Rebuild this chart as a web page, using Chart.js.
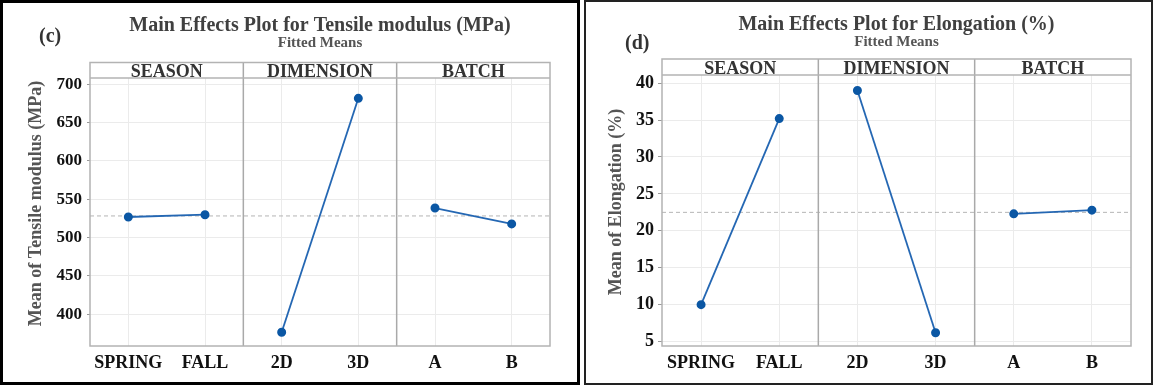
<!DOCTYPE html>
<html>
<head>
<meta charset="utf-8">
<script src="https://cdn.jsdelivr.net/npm/chart.js@4.4.1/dist/chart.umd.min.js"></script>
<style>
  html, body { margin: 0; padding: 0; background: #fff; }
  body { width: 1154px; height: 385px; position: relative; overflow: hidden; }
  .panel { position: absolute; top: 0; height: 385px; box-sizing: border-box; background: #fff; }
  #panel-c { left: 0; width: 580px; border: 3px solid #000; }
  #panel-d { left: 584px; width: 569px; border: 2px solid #222; }
  canvas { display: block; }
</style>
</head>
<body>
<div class="panel" id="panel-c"><canvas id="chart-c" width="574" height="379"></canvas></div>
<div class="panel" id="panel-d"><canvas id="chart-d" width="565" height="381"></canvas></div>
<script>
'use strict';

// ── Data ───────────────────────────────────────────────────
const factors = ['SEASON', 'DIMENSION', 'BATCH'];
const levels = ['SPRING', 'FALL', '2D', '3D', 'A', 'B'];

const tensileMeans = [526.7, 529.7, 376.5, 681.5, 538.4, 517.7];
const tensileGrandMean = 528.1;
const tensileTicks = [400, 450, 500, 550, 600, 650, 700];

const elongMeans = [10.0, 35.2, 39.0, 6.2, 22.3, 22.8];
const elongGrandMean = 22.5;
const elongTicks = [5, 10, 15, 20, 25, 30, 35, 40];

// ── Style ──────────────────────────────────────────────────
const SERIF = "'Liberation Serif', 'Times New Roman', serif";
const LINE = '#2467b3';
const POINT = '#0b57a4';
const FRAME = '#b3b3b3';
const GRID = '#ebebeb';

// ── Facet plugin: strips, separators, grand mean, frame ────
const facetPlugin = {
    id: 'facets',
    beforeDatasetsDraw(chart, args, o) {
        const { ctx, chartArea: a, scales: { x, y } } = chart;
        ctx.save();
        // grand mean reference
        const ym = y.getPixelForValue(o.mean);
        ctx.strokeStyle = '#b5b5b5';
        ctx.lineWidth = 1;
        ctx.setLineDash([4, 3]);
        ctx.beginPath();
        ctx.moveTo(a.left, ym);
        ctx.lineTo(a.right, ym);
        ctx.stroke();
        ctx.setLineDash([]);
        // panel separators
        const stripTop = a.top - o.stripHeight;
        ctx.strokeStyle = '#a9a9a9';
        ctx.lineWidth = 1.5;
        for (let k = 1; k < factors.length; k++) {
            const px = x.getPixelForValue(2 * k - 0.5);
            ctx.beginPath();
            ctx.moveTo(px, stripTop);
            ctx.lineTo(px, a.bottom);
            ctx.stroke();
        }
        ctx.restore();
    },
    afterDraw(chart, args, o) {
        const { ctx, chartArea: a, scales: { x } } = chart;
        const stripTop = a.top - o.stripHeight;
        ctx.save();
        ctx.strokeStyle = FRAME;
        ctx.lineWidth = 1.5;
        ctx.strokeRect(a.left, stripTop, a.right - a.left, a.bottom - stripTop);
        ctx.beginPath();
        ctx.moveTo(a.left, a.top);
        ctx.lineTo(a.right, a.top);
        ctx.stroke();

        // strip labels
        ctx.fillStyle = '#333';
        ctx.font = `bold 18px ${SERIF}`;
        ctx.textAlign = 'center';
        ctx.textBaseline = 'alphabetic';
        factors.forEach((f, k) => {
            ctx.fillText(f, x.getPixelForValue(2 * k + 0.5), a.top - 1.5);
        });

        // y axis title (sits a little above the plot centre)
        ctx.save();
        ctx.translate(o.yTitleX, (a.top + a.bottom) / 2 - 8.5);
        ctx.rotate(-Math.PI / 2);
        ctx.fillStyle = '#555';
        ctx.font = `bold 18px ${SERIF}`;
        ctx.textBaseline = 'middle';
        ctx.fillText(o.yTitle, 0, 0);
        ctx.restore();

        // panel tag
        ctx.fillStyle = '#333';
        ctx.font = `bold 20px ${SERIF}`;
        ctx.textAlign = 'left';
        ctx.fillText(o.tag, o.tagX, o.tagY);
        ctx.restore();
    }
};

// ── Chart builder ──────────────────────────────────────────
function buildChart(id, cfg) {
    const datasets = factors.map((f, k) => ({
        label: f,
        data: levels.map((_, i) => (Math.floor(i / 2) === k ? cfg.means[i] : null)),
        borderColor: LINE,
        borderWidth: 1.8,
        pointBackgroundColor: POINT,
        pointBorderColor: POINT,
        pointRadius: 3.6,
        spanGaps: false,
        tension: 0,
    }));

    return new Chart(document.getElementById(id), {
        type: 'line',
        data: { labels: levels, datasets },
        options: {
            responsive: false,
            animation: false,
            devicePixelRatio: 1,
            layout: { padding: { top: 0, left: 0, right: cfg.padRight, bottom: 0 } },
            plugins: {
                legend: { display: false },
                tooltip: { enabled: false },
                title: {
                    display: true,
                    text: cfg.title,
                    fullSize: false,
                    color: '#404040',
                    font: { family: SERIF, size: 20, weight: 'bold', lineHeight: 1 },
                    padding: { top: cfg.titleTop, bottom: 0 },
                },
                subtitle: {
                    display: true,
                    text: 'Fitted Means',
                    fullSize: false,
                    color: '#555',
                    font: { family: SERIF, size: 15, weight: 'bold', lineHeight: 1 },
                    padding: { top: 0, bottom: cfg.subBottom },
                },
                facets: {
                    mean: cfg.mean,
                    stripHeight: cfg.stripHeight,
                    yTitle: cfg.yTitle,
                    yTitleX: cfg.yTitleX,
                    tag: cfg.tag,
                    tagX: cfg.tagX,
                    tagY: cfg.tagY,
                },
            },
            scales: {
                x: {
                    type: 'category',
                    offset: true,
                    grid: { color: GRID, drawTicks: false, offset: false },
                    border: { display: false },
                    ticks: {
                        color: '#111',
                        padding: 7,
                        font: { family: SERIF, size: 18, weight: 'bold' },
                    },
                    afterFit: (s) => { s.height = cfg.xHeight; },
                },
                y: {
                    min: cfg.min,
                    max: cfg.max,
                    afterBuildTicks: (s) => { s.ticks = cfg.ticks.map(v => ({ value: v })); },
                    grid: { color: GRID, tickLength: cfg.tickLen, tickColor: '#999' },
                    border: { display: false },
                    ticks: {
                        color: '#111',
                        padding: cfg.tickPad,
                        font: { family: SERIF, size: cfg.yFont, weight: 'bold' },
                    },
                    afterFit: (s) => { s.width = cfg.yWidth; },
                },
            },
        },
        plugins: [facetPlugin],
    });
}

// ── Panels ─────────────────────────────────────────────────
buildChart('chart-c', {
    title: 'Main Effects Plot for Tensile modulus (MPa)',
    yTitle: 'Mean of Tensile modulus (MPa)',
    tag: '(c)', tagX: 36, tagY: 39,
    means: tensileMeans, mean: tensileGrandMean, ticks: tensileTicks,
    min: 358.5, max: 708,
    yFont: 17, tickLen: 3, tickPad: 5,
    yWidth: 87, xHeight: 36, padRight: 27,
    titleTop: 13, subBottom: 27, stripHeight: 15.5,
    yTitleX: 33.5,
});

buildChart('chart-d', {
    title: 'Main Effects Plot for Elongation (%)',
    yTitle: 'Mean of Elongation (%)',
    tag: '(d)', tagX: 39, tagY: 47,
    means: elongMeans, mean: elongGrandMean, ticks: elongTicks,
    min: 4.4, max: 41.1,
    yFont: 18, tickLen: 4, tickPad: 4,
    yWidth: 76, xHeight: 37, padRight: 20,
    titleTop: 13, subBottom: 25, stripHeight: 16,
    yTitleX: 30,
});
</script>
</body>
</html>
